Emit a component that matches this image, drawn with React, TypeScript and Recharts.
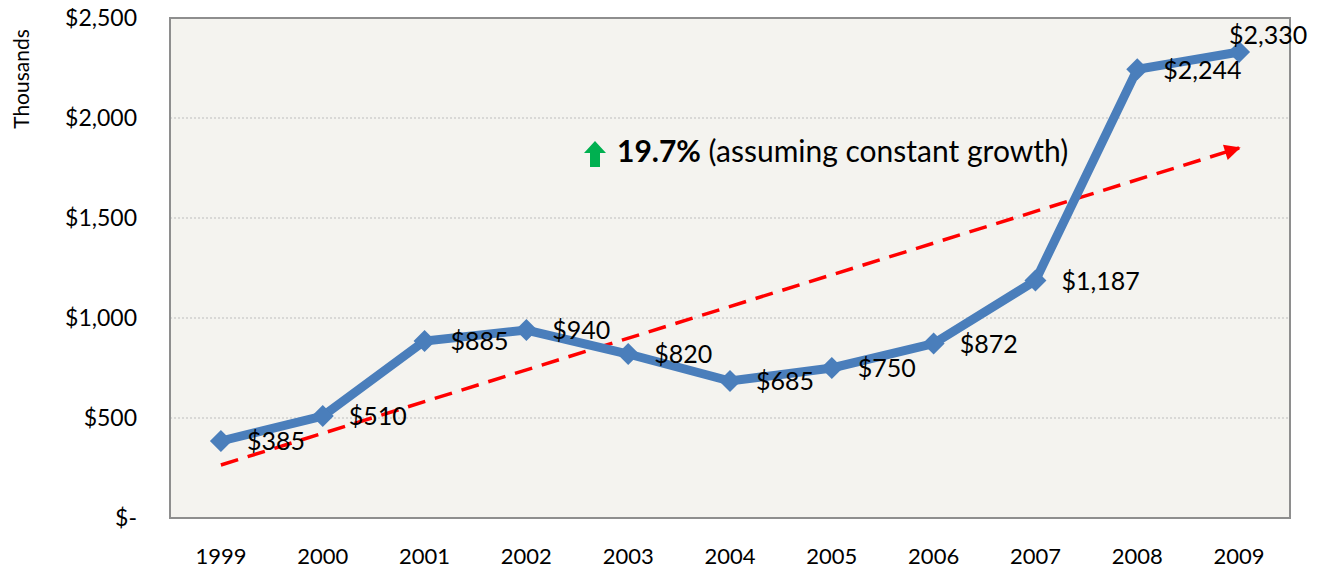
import React from 'react';
import { ComposedChart, Line, XAxis, YAxis, CartesianGrid, LabelList, Customized } from 'recharts';

const years = ['1999', '2000', '2001', '2002', '2003', '2004', '2005', '2006', '2007', '2008', '2009'];
const revenue = [385, 510, 885, 940, 820, 685, 750, 872, 1187, 2244, 2330];
const trendStart = 265;
const trendEnd = 1850;
const yTicks = [0, 500, 1000, 1500, 2000, 2500];
const growthLabel = '19.7%';
const growthNote = ' (assuming constant growth)';

const data = years.map((y, i) => ({
  year: y,
  revenue: revenue[i],
  trend: i === 0 ? trendStart : i === years.length - 1 ? trendEnd : null,
}));

const FONT = 'Lato, "Open Sans", sans-serif';
const W = 1313;
const H = 571;
const M = { top: 18, right: 31, left: 0, bottom: 0 };
const YW = 162;
const XH = 53;
const PL = M.left + YW;
const PT = M.top;
const PR = W - M.right;
const PB = H - XH;
const DY = 8;

const fmt = (v: number) => (v === 0 ? '$-' : '$' + v.toLocaleString('en-US'));

const Diamond = (props: any) => {
  const { cx, cy } = props;
  if (cx == null || cy == null) return null;
  const s = 11;
  return <polygon points={`${cx},${cy - s} ${cx + s},${cy} ${cx},${cy + s} ${cx - s},${cy}`} fill="#4A7EBB" />;
};

const ValueLabel = (props: any) => {
  const { x, y, value, index } = props;
  const last = index === revenue.length - 1;
  return (
    <text
      x={last ? x - 10 : x + 26}
      y={last ? y - 14 : y + 3}
      dominantBaseline="middle"
      fontSize={25}
      fontFamily={FONT}
      fill="#000"
    >
      {fmt(value)}
    </text>
  );
};

const Extras = () => (
  <g>
    <rect x={PL} y={PT} width={PR - PL} height={PB - PT} fill="none" stroke="#8E8E8E" strokeWidth={2} />
    <text x={16} y={71 + DY} transform={`rotate(-90 16 ${71 + DY})`} textAnchor="middle" dominantBaseline="middle" fontSize={21} fontFamily={FONT} fill="#000">
      Thousands
    </text>
    <g transform={`translate(0 ${DY})`}>
      <polygon points="587,133 598,145 592,145 592,159 582,159 582,145 576,145" fill="#00B050" />
      <text x={609} y={146} dominantBaseline="middle" fontSize={30} fontFamily={FONT} fill="#000">
        <tspan fontWeight="bold">{growthLabel}</tspan>
        <tspan>{growthNote}</tspan>
      </text>
    </g>
  </g>
);

export default function App() {
  return (
    <div style={{ width: W, height: H, marginTop: -8 }}>
      <svg width={0} height={0} style={{ position: 'absolute' }}>
        <defs>
          <marker id="arrowRed" viewBox="0 0 10 10" refX="9" refY="5" markerWidth="18" markerHeight="16" markerUnits="userSpaceOnUse" orient="auto">
            <path d="M0,0 L10,5 L0,10 z" fill="#FF0000" />
          </marker>
        </defs>
      </svg>
      <ComposedChart width={W} height={H} data={data} margin={M}>
        <CartesianGrid vertical={false} stroke="#BDBDBD" strokeDasharray="2 2" fill="#F4F3EF" />
        <XAxis
          dataKey="year"
          scale="band"
          height={XH}
          tickLine={false}
          axisLine={false}
          tickSize={0}
          tickMargin={30}
          tick={{ fontSize: 22, fontFamily: FONT, fill: '#000' }}
          interval={0}
        />
        <YAxis
          width={YW}
          domain={[0, 2500]}
          ticks={yTicks}
          tickFormatter={fmt}
          tickLine={false}
          axisLine={false}
          tickSize={0}
          tickMargin={33}
          tick={{ fontSize: 23, fontFamily: FONT, fill: '#000' }}
        />
        <Customized component={Extras} />
        <Line
          dataKey="trend"
          connectNulls
          stroke="#FF0000"
          strokeWidth={3.5}
          strokeDasharray="18 10"
          dot={false}
          markerEnd="url(#arrowRed)"
          isAnimationActive={false}
        />
        <Line
          dataKey="revenue"
          stroke="#4A7EBB"
          strokeWidth={9}
          dot={<Diamond />}
          activeDot={false}
          isAnimationActive={false}
        >
          <LabelList dataKey="revenue" content={<ValueLabel />} />
        </Line>
      </ComposedChart>
    </div>
  );
}
